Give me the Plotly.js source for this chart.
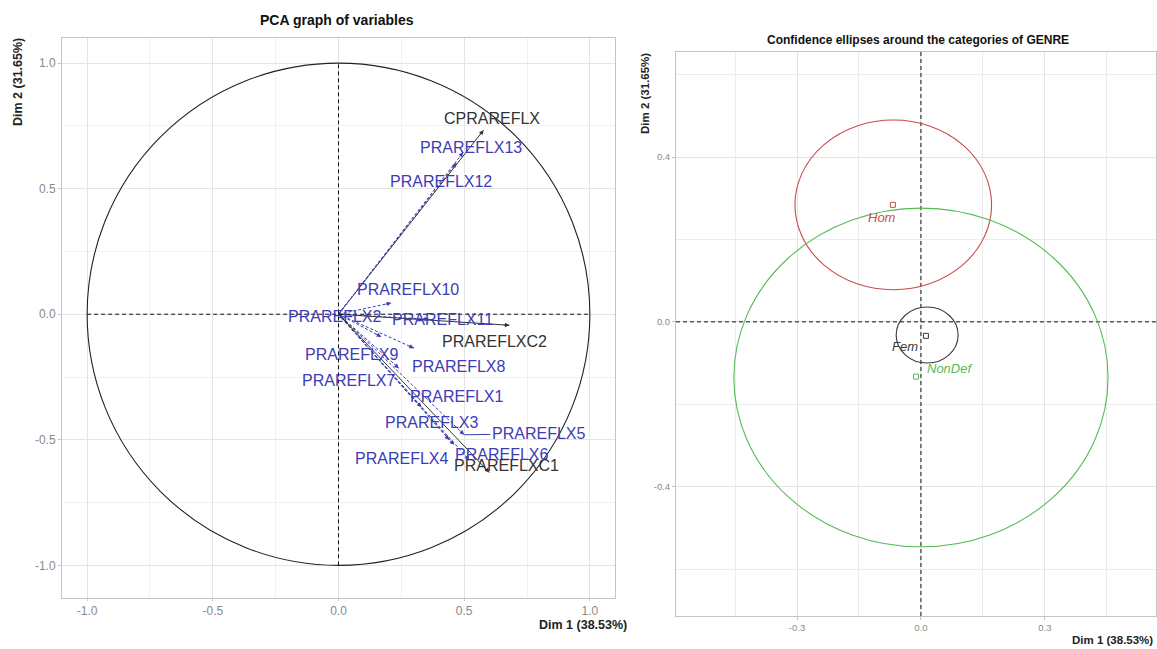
<!DOCTYPE html>
<html><head><meta charset="utf-8">
<script src="https://cdn.plot.ly/plotly-3.0.1.min.js"></script>
<style>html,body{margin:0;padding:0;background:#fff}#chart{width:1157px;height:649px}</style>
</head><body><div id="chart"></div>
<script>
// ---- PCA graph of variables (coordinates on Dim 1 / Dim 2) ----
const varNames = ['CPRAREFLX','PRAREFLX13','PRAREFLX12','PRAREFLX10','PRAREFLX11','PRAREFLX2','PRAREFLXC2',
                  'PRAREFLX9','PRAREFLX8','PRAREFLX7','PRAREFLX1','PRAREFLX3','PRAREFLX5','PRAREFLX4','PRAREFLX6','PRAREFLXC1'];
const varDim1 = [0.577, 0.496, 0.469, 0.21, 0.36, 0.02, 0.68, 0.17, 0.30, 0.24, 0.33, 0.44, 0.50, 0.46, 0.52, 0.60];
const varDim2 = [0.733, 0.645, 0.602, 0.045, -0.02, -0.02, -0.044, -0.09, -0.135, -0.215, -0.37, -0.50, -0.48, -0.52, -0.58, -0.63];
const varActive = [true, false, false, false, false, false, true, false, false, false, false, false, false, false, false, true];
// label placement (pixel offsets from arrow tip, like ggrepel placement)
const labelDx = [8, 8, -15, 17, 14, -9, -15, -30, 45, -50, 35, -18, 74, -53, 32, 17];
const labelDy = [12, 5, -18, 13, 0, 3, -16, -18, -18, -12, 11, 17, 1, -14, 5, 7];
const labelConnector = [false,false,false,false,false,false,false,false,false,false,false,false,true,false,false,false];

// ---- Confidence ellipses around the categories of GENRE ----
const catNames = ['Hom', 'Fem', 'NonDef'];
const catDim1 = [-0.068, 0.012, -0.012];
const catDim2 = [0.284, -0.034, -0.133];
const ellCx = [-0.067, 0.015, 0.0];
const ellCy = [0.284, -0.032, -0.135];
const ellRx = [0.238, 0.075, 0.453];
const ellRy = [0.206, 0.068, 0.411];
const catColors = ['#c94b4b', '#3a3a3a', '#55bb55'];
const catLabelDx = [-11, -21, 33];
const catLabelDy = [-13, -11, 8];

const xTicksL = [-1, -0.5, 0, 0.5, 1], xTickTextL = ['-1.0','-0.5','0.0','0.5','1.0'];
const yTicksL = [-1, -0.5, 0, 0.5, 1], yTickTextL = ['-1.0','-0.5','0.0','0.5','1.0'];
const xTicksR = [-0.3, 0, 0.3], xTickTextR = ['-0.3','0.0','0.3'];
const yTicksR = [-0.4, 0, 0.4], yTickTextR = ['-0.4','0.0','0.4'];

const FONT = 'Liberation Sans, Arial, sans-serif';
const BLUE = '#3c3cb4';
const DARK = '#333333';
const DASH = '4px,3px';
const W = 1157, H = 649;

const traces = [];
const annotations = [];
const shapes = [];

// arrows (left panel)
varNames.forEach((n, i) => {
  const col = varActive[i] ? DARK : BLUE;
  traces.push({
    x: [0, varDim1[i]], y: [0, varDim2[i]], xaxis: 'x', yaxis: 'y',
    mode: 'lines', line: {color: col, width: 1, dash: varActive[i] ? 'solid' : '3px,2px'},
    hoverinfo: 'skip', showlegend: false
  });
  const len = Math.hypot(varDim1[i], varDim2[i]);
  const ux = varDim1[i] / len, uy = varDim2[i] / len;
  const back = Math.min(0.03, len * 0.5);
  annotations.push({
    xref: 'x', yref: 'y', axref: 'x', ayref: 'y',
    x: varDim1[i], y: varDim2[i], ax: varDim1[i] - back * ux, ay: varDim2[i] - back * uy,
    text: '', showarrow: true, arrowhead: 2, arrowsize: 0.9, arrowwidth: 1, arrowcolor: col
  });
  if (labelConnector[i]) {
    annotations.push({
      xref: 'x', yref: 'y', x: varDim1[i], y: varDim2[i], ax: labelDx[i], ay: -labelDy[i],
      text: n, showarrow: true, arrowhead: 0, arrowwidth: 1, arrowcolor: col, standoff: 0,
      font: {family: FONT, size: 16, color: col}
    });
  } else {
    annotations.push({
      xref: 'x', yref: 'y', x: varDim1[i], y: varDim2[i], xshift: labelDx[i], yshift: labelDy[i],
      text: n, showarrow: false, font: {family: FONT, size: 16, color: col}
    });
  }
});

// unit circle and dashed axes (left)
shapes.push({type: 'circle', xref: 'x', yref: 'y', x0: -1, x1: 1, y0: -1, y1: 1, line: {color: '#222', width: 1.1}});
shapes.push({type: 'line', xref: 'x', yref: 'y', x0: -1, x1: 1, y0: 0, y1: 0, line: {color: '#111', width: 1, dash: DASH}});
shapes.push({type: 'line', xref: 'x', yref: 'y', x0: 0, x1: 0, y0: -1, y1: 1, line: {color: '#111', width: 1, dash: DASH}});

// right panel dashed axes
shapes.push({type: 'line', xref: 'x2 domain', yref: 'y2', x0: 0, x1: 1, y0: 0, y1: 0, line: {color: '#111', width: 1, dash: DASH}});
shapes.push({type: 'line', xref: 'x2', yref: 'y2 domain', x0: 0, x1: 0, y0: 0, y1: 1, line: {color: '#111', width: 1, dash: DASH}});

// ellipses and categories
catNames.forEach((n, i) => {
  shapes.push({type: 'circle', xref: 'x2', yref: 'y2',
    x0: ellCx[i] - ellRx[i], x1: ellCx[i] + ellRx[i], y0: ellCy[i] - ellRy[i], y1: ellCy[i] + ellRy[i],
    line: {color: catColors[i], width: 1.1}});
  traces.push({
    x: [catDim1[i]], y: [catDim2[i]], xaxis: 'x2', yaxis: 'y2', mode: 'markers',
    marker: {symbol: 'square-open', size: 5, color: catColors[i], line: {width: 1}},
    hoverinfo: 'skip', showlegend: false
  });
  annotations.push({
    xref: 'x2', yref: 'y2', x: catDim1[i], y: catDim2[i], xshift: catLabelDx[i], yshift: catLabelDy[i],
    text: '<i>' + n + '</i>', showarrow: false, font: {family: FONT, size: 13, color: catColors[i]}
  });
});

// titles and axis titles
const paper = (px, py) => ({x: px / W, y: 1 - py / H});
annotations.push(Object.assign({xref: 'paper', yref: 'paper', text: '<b>PCA graph of variables</b>', showarrow: false,
  xanchor: 'center', yanchor: 'middle', font: {family: FONT, size: 14, color: '#111'}}, paper(337, 20)));
annotations.push(Object.assign({xref: 'paper', yref: 'paper', text: '<b>Confidence ellipses around the categories of GENRE</b>', showarrow: false,
  xanchor: 'center', yanchor: 'middle', font: {family: FONT, size: 12, color: '#111'}}, paper(918, 40)));
annotations.push(Object.assign({xref: 'paper', yref: 'paper', text: '<b>Dim 1 (38.53%)</b>', showarrow: false,
  xanchor: 'right', yanchor: 'middle', font: {family: FONT, size: 12.5, color: '#222'}}, paper(629, 625)));
annotations.push(Object.assign({xref: 'paper', yref: 'paper', text: '<b>Dim 1 (38.53%)</b>', showarrow: false,
  xanchor: 'right', yanchor: 'middle', font: {family: FONT, size: 11.5, color: '#222'}}, paper(1155, 640)));
annotations.push(Object.assign({xref: 'paper', yref: 'paper', text: '<b>Dim 2 (31.65%)</b>', showarrow: false, textangle: -90,
  xanchor: 'center', yanchor: 'middle', font: {family: FONT, size: 12.5, color: '#222'}}, paper(18, 82)));
annotations.push(Object.assign({xref: 'paper', yref: 'paper', text: '<b>Dim 2 (31.65%)</b>', showarrow: false, textangle: -90,
  xanchor: 'center', yanchor: 'middle', font: {family: FONT, size: 11.5, color: '#222'}}, paper(645, 94)));

const axisBase = {
  showgrid: true, gridcolor: '#e4e4e4', gridwidth: 1, zeroline: false,
  showline: true, mirror: true, linecolor: '#c4c4c4', linewidth: 1,
  ticks: 'outside', ticklen: 3, tickcolor: '#c4c4c4', tickmode: 'array',
  fixedrange: true
};

const layout = {
  width: W, height: H, margin: {l: 0, r: 0, t: 0, b: 0},
  paper_bgcolor: '#fff', plot_bgcolor: '#fff', showlegend: false,
  xaxis: Object.assign({}, axisBase, {domain: [62 / W, 615 / W], range: [-1.1, 1.1], anchor: 'y',
    tickvals: xTicksL, ticktext: xTickTextL, tickfont: {family: FONT, size: 12, color: '#8a8a8a'},
    minor: {tickvals: [-0.75, -0.25, 0.25, 0.75], showgrid: true, gridcolor: '#f1f1f1', ticks: ''}}),
  yaxis: Object.assign({}, axisBase, {domain: [1 - 598 / H, 1 - 38 / H], range: [-1.13, 1.1], anchor: 'x',
    tickvals: yTicksL, ticktext: yTickTextL, tickfont: {family: FONT, size: 12, color: '#8a8a8a'},
    minor: {tickvals: [-0.75, -0.25, 0.25, 0.75], showgrid: true, gridcolor: '#f1f1f1', ticks: ''}}),
  xaxis2: Object.assign({}, axisBase, {domain: [676 / W, 1156 / W], range: [-0.593, 0.569], anchor: 'y2',
    tickvals: xTicksR, ticktext: xTickTextR, tickfont: {family: FONT, size: 9.5, color: '#8a8a8a'},
    minor: {tickvals: [-0.45, -0.15, 0.15, 0.45], showgrid: true, gridcolor: '#ececec', ticks: ''}}),
  yaxis2: Object.assign({}, axisBase, {domain: [1 - 616 / H, 1 - 52 / H], range: [-0.714, 0.655], anchor: 'x2',
    tickvals: yTicksR, ticktext: yTickTextR, tickfont: {family: FONT, size: 9.5, color: '#8a8a8a'},
    minor: {tickvals: [-0.6, -0.2, 0.2, 0.6], showgrid: true, gridcolor: '#ececec', ticks: ''}}),
  annotations: annotations,
  shapes: shapes
};
layout.xaxis.ticklen = 2;

Plotly.newPlot('chart', traces, layout, {staticPlot: true, displayModeBar: false});
</script>
</body></html>
